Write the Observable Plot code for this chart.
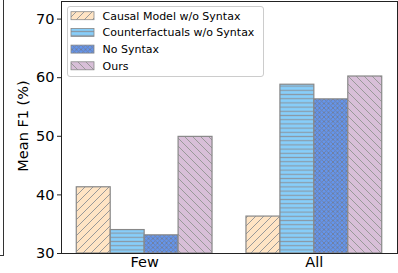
<!DOCTYPE html>
<html><head><meta charset="utf-8">
<script src="https://cdn.jsdelivr.net/npm/d3@7"></script>
<script src="https://cdn.jsdelivr.net/npm/@observablehq/plot@0.6"></script>
<style>
body{margin:0;background:#fff;overflow:hidden}
#wrap{position:relative;width:398px;height:273px}
#edge{position:absolute;left:-10px;top:-2px;width:13px;height:257px;border-right:1px solid #333;border-bottom:1px solid #333;pointer-events:none}
</style></head><body><div id="wrap"><div id="edge"></div></div>
<script>
const groups = ["Few", "All"];
const seriesNames = ["Causal Model w/o Syntax", "Counterfactuals w/o Syntax", "No Syntax", "Ours"];
const causal = [41.3, 36.3];
const counterfactual = [34.0, 58.8];
const noSyntax = [33.1, 56.3];
const ours = [49.9, 60.2];
const yTicks = [30, 40, 50, 60, 70];
const yLabel = "Mean F1 (%)";

const seriesValues = [causal, counterfactual, noSyntax, ours];
const barWidth = 0.2;
const data = seriesValues.flatMap((vals, s) => vals.map((v, g) => ({
  series: seriesNames[s], s, g, value: v,
  x1: g + (s - 2) * barWidth, x2: g + (s - 1) * barWidth
})));

const marks = [];
seriesNames.forEach((name, s) => {
  marks.push(Plot.rectY(data.filter(d => d.s === s), {
    x1: "x1", x2: "x2", y1: 30, y2: "value",
    fill: `url(#p${s})`, stroke: "#888", strokeWidth: 1.2
  }));
});
marks.push(Plot.frame({stroke: "#222", strokeWidth: 1}));
marks.push(Plot.axisY({ticks: yTicks, tickSize: 4, tickPadding: 3, label: null, stroke: "#222"}));
marks.push(Plot.axisX({ticks: [0, 1], tickFormat: i => groups[i], tickSize: 0, tickPadding: 3, label: null}));

const chart = Plot.plot({
  width: 398, height: 273,
  marginLeft: 61, marginRight: 1, marginTop: 1, marginBottom: 20,
  style: {fontFamily: "DejaVu Sans", fontSize: "14.5px", color: "#000", background: "transparent"},
  x: {domain: [-0.49, 1.49]},
  y: {domain: [30, 73]},
  marks
});
document.getElementById("wrap").appendChild(chart);

const svg = d3.select(chart);
const defs = svg.insert("defs", ":first-child");
function pat(id, w, h, bg, d, color, sw) {
  const p = defs.append("pattern").attr("id", id).attr("patternUnits", "userSpaceOnUse").attr("width", w).attr("height", h);
  p.append("rect").attr("width", w).attr("height", h).attr("fill", bg);
  p.append("path").attr("d", d).attr("stroke", color).attr("stroke-width", sw).attr("fill", "none");
}
pat("p0", 8, 8, "#FFE4C4", "M-1,1 l2,-2 M0,8 l8,-8 M7,9 l2,-2", "#999", 1);
pat("p1", 8, 4.2, "#87CEFA", "M0,2.1 h8", "#8a9aa8", 1.2);
pat("p2", 4.5, 4.5, "#6495ED", "M0,0 L4.5,4.5 M4.5,0 L0,4.5", "#6f7f9f", 0.9);
pat("p3", 8, 8, "#D8BFD8", "M-1,7 l2,2 M0,0 l8,8 M7,-1 l2,2", "#999", 1);

// y-axis title
svg.append("text").attr("transform", "translate(23,126) rotate(-90)")
  .attr("text-anchor", "middle").attr("dy", "0.36em")
  .attr("font-family", "DejaVu Sans").attr("font-size", "14.5px").attr("fill", "#000").text(yLabel);

const lg = svg.append("g").attr("font-family", "DejaVu Sans").attr("font-size", "11px").attr("text-anchor", "start");
lg.append("rect").attr("x", 67.5).attr("y", 6.5).attr("width", 196).attr("height", 70).attr("rx", 2.5)
  .attr("fill", "#fff").attr("fill-opacity", 0.9).attr("stroke", "#ccc");
const rowY = [15.7, 32.4, 49.1, 65.8];
seriesNames.forEach((name, s) => {
  lg.append("rect").attr("x", 71).attr("y", rowY[s] - 4).attr("width", 23).attr("height", 8)
    .attr("fill", `url(#p${s})`).attr("stroke", "#888").attr("stroke-width", 0.8);
  lg.append("text").attr("x", 102.5).attr("y", rowY[s]).attr("dy", "0.36em").attr("text-anchor", "start").attr("fill", "#000").text(name);
});
</script>
</body></html>
